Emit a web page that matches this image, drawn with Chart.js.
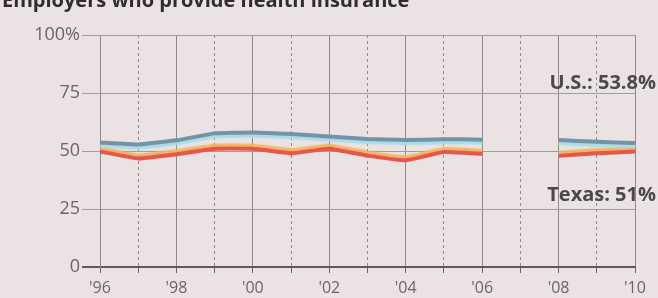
<!DOCTYPE html>
<html lang="en">
<head>
  <meta charset="UTF-8">
  <title>Employers who provide health insurance</title>
  <script src="https://cdn.jsdelivr.net/npm/chart.js"></script>
  <style>
    html, body { margin: 0; padding: 0; background: #ebe2e3; overflow: hidden; }
    #wrap { position: relative; width: 658px; height: 298px; }
    #title { position: absolute; left: 2px; top: -14px; font: bold 20px "Open Sans", sans-serif; color: #2e2e2e; white-space: nowrap; }
  </style>
</head>
<body>
  <div id="wrap">
    <canvas id="chart" width="658" height="298"></canvas>
    <div id="title">Employers who provide health insurance</div>
  </div>
  <script>
    const years = ['1996','1997','1998','1999','2000','2001','2002','2003','2004','2005','2006','2007','2008','2009','2010'];
    const usValues = [53.7, 52.8, 54.6, 57.6, 58.0, 57.3, 56.2, 55.2, 54.7, 55.1, 54.9, null, 54.7, 54.0, 53.4];
    const texasValues = [49.8, 46.8, 48.6, 51.0, 51.0, 49.0, 51.0, 48.0, 46.0, 49.6, 48.8, null, 47.9, 49.0, 49.8];
    const yTicks = [0, 25, 50, 75, 100];
    const endLabels = ['U.S.: 53.8%', 'Texas: 51%'];
    const endLabelLevels = [79, 31];

    // soft offset colour under each line, like the print
    const glowPlugin = {
      id: 'glow',
      beforeDatasetDraw(chart, args) {
        const ds = chart.data.datasets[args.index];
        const ctx = chart.ctx;
        ctx.save();
        ctx.shadowColor = ds.glowColor;
        ctx.shadowOffsetY = ds.glowOffset;
        ctx.shadowBlur = 1.5;
      },
      afterDatasetDraw(chart) {
        chart.ctx.restore();
      }
    };

    const endLabelPlugin = {
      id: 'endLabels',
      afterDraw(chart) {
        const ctx = chart.ctx;
        const y = chart.scales.y;
        ctx.save();
        ctx.font = 'bold 20px "Open Sans", sans-serif';
        ctx.fillStyle = '#4a4a4a';
        ctx.textAlign = 'right';
        ctx.textBaseline = 'middle';
        endLabels.forEach((t, i) => {
          ctx.fillText(t, chart.width - 2, y.getPixelForValue(endLabelLevels[i]));
        });
        ctx.restore();
      }
    };

    new Chart(document.getElementById('chart'), {
      type: 'line',
      data: {
        labels: years,
        datasets: [{
          label: 'U.S.',
          data: usValues,
          borderColor: '#7393a6',
          borderWidth: 4,
          glowColor: '#a8dbe6',
          glowOffset: 3,
          pointRadius: 0,
          tension: 0.1,
          spanGaps: false
        }, {
          label: 'Texas',
          data: texasValues,
          borderColor: '#e6564c',
          borderWidth: 4,
          glowColor: '#f2b35c',
          glowOffset: -3,
          pointRadius: 0,
          tension: 0.1,
          spanGaps: false
        }]
      },
      options: {
        responsive: false,
        animation: false,
        layout: { padding: { top: 35, right: 23, left: 0, bottom: 0 } },
        plugins: { legend: { display: false }, tooltip: { enabled: false } },
        scales: {
          x: {
            offset: false,
            afterFit: s => { s.height = 31; },
            grid: {
              color: '#8f8a8b',
              lineWidth: 1,
              tickLength: 6,
              tickColor: '#666'
            },
            border: {
              color: '#5e5a5b',
              width: 2,
              dash: c => (c.index % 2 ? [3, 3] : [])
            },
            ticks: {
              autoSkip: false,
              maxRotation: 0,
              padding: 6,
              color: '#6a6667',
              font: { family: 'Open Sans', size: 16 },
              callback: (v, i) => (i % 2 ? '' : "'" + years[i].slice(2))
            }
          },
          y: {
            min: 0,
            max: 100,
            afterFit: s => { s.width = 100; },
            afterBuildTicks: s => { s.ticks = yTicks.map(v => ({ value: v })); },
            grid: {
              color: c => (c.tick && c.tick.value === 0 ? '#5e5a5b' : '#a29c9d'),
              lineWidth: c => (c.tick && c.tick.value === 0 ? 2 : 1),
              tickLength: 18
            },
            border: { color: '#8f8a8b', width: 1 },
            ticks: {
              padding: 2,
              color: '#6a6667',
              font: { family: 'Open Sans', size: 18 },
              callback: v => (v === 100 ? '100%' : v)
            }
          }
        }
      },
      plugins: [glowPlugin, endLabelPlugin]
    });
  </script>
</body>
</html>
